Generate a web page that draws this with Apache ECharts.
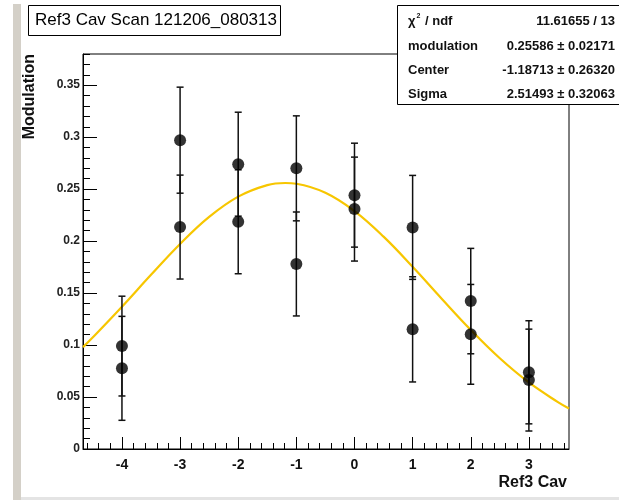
<!DOCTYPE html>
<html>
<head>
<meta charset="utf-8">
<script src="https://cdn.jsdelivr.net/npm/echarts@6/dist/echarts.min.js"></script>
<style>
html,body{margin:0;padding:0;background:#fff;}
#chart{width:619px;height:500px;}
</style>
</head>
<body>
<div id="chart"></div>
<script>
// ---- data ----
const pointX = [-4, -4, -3, -3, -2, -2, -1, -1, 0, 0, 1, 1, 2, 2, 3, 3];
const pointY = [0.099, 0.0776, 0.2971, 0.2135, 0.274, 0.2186, 0.270, 0.178, 0.2442, 0.2308, 0.2132, 0.1151, 0.1423, 0.1103, 0.0738, 0.0663];
const pointErr = [0.048, 0.050, 0.051, 0.050, 0.050, 0.050, 0.0505, 0.050, 0.050, 0.050, 0.050, 0.0506, 0.0507, 0.048, 0.0496, 0.049];

const fitX = [-4.67, -4.5, -4.0, -3.5, -3.0, -2.5, -2.0, -1.5, -1.19, -1.0, -0.5, 0.0, 0.5, 1.0, 1.5, 2.0, 2.5, 3.0, 3.5, 3.69];
const fitY = [0.098, 0.1075, 0.1369, 0.1676, 0.1973, 0.2233, 0.2428, 0.2539, 0.2559, 0.2552, 0.2465, 0.2289, 0.2043, 0.1753, 0.1446, 0.1146, 0.0873, 0.0640, 0.0451, 0.0389];

const xTickLabels = [-4, -3, -2, -1, 0, 1, 2, 3];
const yTickLabels = [0, 0.05, 0.1, 0.15, 0.2, 0.25, 0.3, 0.35];

const titleText = 'Ref3 Cav Scan 121206_080313';
const xTitle = 'Ref3 Cav';
const yTitle = 'Modulation';
const statNames = ['modulation', 'Center', 'Sigma'];
const statValues = ['0.25586 ± 0.02171', '-1.18713 ± 0.26320', '2.51493 ± 0.32063'];
const chiText = '11.61655 / 13';

// ---- axis ranges ----
const xMin = -4.67, xMax = 3.69;
const yMin = 0, yMax = 0.38;

const xMinor = [];
for (let i = 0; i <= 41; i++) { const v = Math.round((-4.6 + 0.2 * i) * 10) / 10; if (v <= xMax) xMinor.push(v); }
const yMinor = [];
for (let i = 0; i <= 38; i++) yMinor.push(Math.round(i) / 100);

const scatterData = pointX.map((x, i) => [x, pointY[i]]);
const errData = pointX.map((x, i) => [x, pointY[i], pointErr[i]]);
const fitData = fitX.map((x, i) => [x, fitY[i]]);

const FONT = '"Liberation Sans", Arial, Helvetica, sans-serif';

const chart = echarts.init(document.getElementById('chart'), null, {renderer: 'canvas'});

const statRowsY = [46, 70, 94];
const statGraphics = [];
statNames.forEach((n, i) => {
  statGraphics.push({type: 'text', z: 101, x: 408, y: statRowsY[i],
    style: {text: n, font: 'bold 13px ' + FONT, fill: '#111', textAlign: 'left', textVerticalAlign: 'middle'}});
  statGraphics.push({type: 'text', z: 101, x: 615, y: statRowsY[i],
    style: {text: statValues[i], font: 'bold 13px ' + FONT, fill: '#111', textAlign: 'right', textVerticalAlign: 'middle'}});
});

const option = {
  animation: false,
  backgroundColor: '#fff',
  title: {
    text: titleText,
    left: 28, top: 5,
    padding: [6, 4, 6, 7],
    borderColor: '#000', borderWidth: 1,
    backgroundColor: '#fff',
    textStyle: {fontFamily: FONT, fontSize: 17, fontWeight: 'normal', color: '#000', lineHeight: 19}
  },
  grid: {left: 83, top: 54, width: 486, height: 395, show: true, borderColor: '#000', borderWidth: 1, backgroundColor: 'transparent'},
  xAxis: [{
    type: 'value', min: xMin, max: xMax, position: 'bottom',
    axisLine: {show: true, onZero: false, lineStyle: {color: '#000', width: 1}},
    axisTick: {show: true, inside: true, length: 6, customValues: xMinor, lineStyle: {color: '#000', width: 1}},
    axisLabel: {show: true, customValues: xTickLabels, margin: 9, color: '#111', fontFamily: FONT, fontWeight: 'bold', fontSize: 14},
    splitLine: {show: false}
  }, {
    type: 'value', min: xMin, max: xMax, position: 'bottom',
    axisLine: {show: false, onZero: false},
    axisTick: {show: true, inside: true, length: 12, customValues: xTickLabels, lineStyle: {color: '#000', width: 1}},
    axisLabel: {show: false},
    splitLine: {show: false}
  }],
  yAxis: [{
    type: 'value', min: yMin, max: yMax, position: 'left',
    axisLine: {show: true, onZero: false, lineStyle: {color: '#000', width: 1}},
    axisTick: {show: true, inside: true, length: 7, customValues: yMinor, lineStyle: {color: '#000', width: 1}},
    axisLabel: {show: true, customValues: yTickLabels, margin: 3, color: '#222', fontFamily: FONT, fontWeight: 'bold', fontSize: 12},
    splitLine: {show: false}
  }, {
    type: 'value', min: yMin, max: yMax, position: 'left',
    axisLine: {show: false, onZero: false},
    axisTick: {show: true, inside: true, length: 14, customValues: yTickLabels, lineStyle: {color: '#000', width: 1}},
    axisLabel: {show: false},
    splitLine: {show: false}
  }],
  series: [{
    type: 'line', name: 'fit', data: fitData, xAxisIndex: 0, yAxisIndex: 0,
    smooth: 0.4, showSymbol: false, clip: true,
    lineStyle: {color: '#f7c600', width: 2.2}, z: 2
  }, {
    type: 'custom', name: 'errors', data: errData, xAxisIndex: 0, yAxisIndex: 0, z: 3,
    renderItem: function (params, api) {
      const x = api.value(0), y = api.value(1), e = api.value(2);
      const top = api.coord([x, y + e]);
      const bot = api.coord([x, y - e]);
      const hw = 3.5;
      const st = {stroke: '#111', lineWidth: 1.5};
      return {type: 'group', children: [
        {type: 'line', shape: {x1: top[0], y1: top[1], x2: bot[0], y2: bot[1]}, style: st},
        {type: 'line', shape: {x1: top[0] - hw, y1: top[1], x2: top[0] + hw, y2: top[1]}, style: st},
        {type: 'line', shape: {x1: bot[0] - hw, y1: bot[1], x2: bot[0] + hw, y2: bot[1]}, style: st}
      ]};
    }
  }, {
    type: 'scatter', name: 'data', data: scatterData, xAxisIndex: 0, yAxisIndex: 0,
    symbol: 'circle', symbolSize: 12, itemStyle: {color: '#000'}, z: 4
  }],
  graphic: [
    {type: 'rect', z: 0, shape: {x: 13, y: 4, width: 8, height: 496}, style: {fill: '#d4d0c8'}},
    {type: 'rect', z: 0, shape: {x: 21, y: 497, width: 598, height: 3}, style: {fill: '#e4e4e4'}},
    {type: 'text', z: 100, x: 30, y: 54, rotation: Math.PI / 2,
      style: {text: yTitle, font: 'bold 16px ' + FONT, fill: '#111', textAlign: 'right', textVerticalAlign: 'middle'}},
    {type: 'text', z: 100, x: 567, y: 483,
      style: {text: xTitle, font: 'bold 16px ' + FONT, fill: '#111', textAlign: 'right', textVerticalAlign: 'middle'}},
    {type: 'rect', z: 100, shape: {x: 397.5, y: 5.5, width: 240, height: 99}, style: {fill: '#fff', stroke: '#000', lineWidth: 1}},
    {type: 'text', z: 101, x: 408, y: 21,
      style: {text: '{c|χ}{s|2}{c| / ndf}', fill: '#111', textAlign: 'left', textVerticalAlign: 'middle',
        rich: {c: {font: 'bold 13px ' + FONT, fill: '#111'}, s: {font: 'bold 7px ' + FONT, fill: '#111', padding: [0, 1, 9, 1]}}}},
    {type: 'text', z: 101, x: 615, y: 21,
      style: {text: chiText, font: 'bold 13px ' + FONT, fill: '#111', textAlign: 'right', textVerticalAlign: 'middle'}}
  ].concat(statGraphics)
};
chart.setOption(option);
</script>
</body>
</html>
